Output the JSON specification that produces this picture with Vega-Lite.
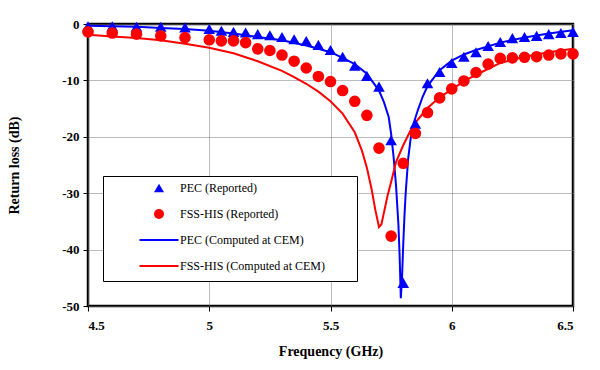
{
  "$schema": "https://vega.github.io/schema/vega-lite/v6.json",
  "autosize": {"type": "none"},
  "padding": {"left": 88, "top": 24, "right": 27, "bottom": 64},
  "width": 485,
  "height": 282,
  "background": "white",
  "config": {
    "view": {"stroke": "black", "strokeWidth": 2.5},
    "axis": {
      "domain": false,
      "grid": true,
      "gridColor": "#777777",
      "gridDash": [1, 1],
      "gridWidth": 1,
      "gridOpacity": 1,
      "tickColor": "black",
      "tickSize": 5,
      "tickWidth": 1,
      "labelFont": "Liberation Serif, Times New Roman, serif",
      "labelFontSize": 13,
      "labelFontWeight": "bold",
      "labelColor": "black",
      "titleFont": "Liberation Serif, Times New Roman, serif",
      "titleFontSize": 14,
      "titleFontWeight": "bold",
      "titleColor": "black"
    }
  },
  "data": {
    "values": [
      {"s": "PEC (Reported)", "k": "p", "f": 4.5, "db": -0.4},
      {"s": "PEC (Reported)", "k": "p", "f": 4.6, "db": -0.4},
      {"s": "PEC (Reported)", "k": "p", "f": 4.7, "db": -0.5},
      {"s": "PEC (Reported)", "k": "p", "f": 4.8, "db": -0.5},
      {"s": "PEC (Reported)", "k": "p", "f": 4.9, "db": -0.6},
      {"s": "PEC (Reported)", "k": "p", "f": 5.0, "db": -0.9},
      {"s": "PEC (Reported)", "k": "p", "f": 5.05, "db": -1.2},
      {"s": "PEC (Reported)", "k": "p", "f": 5.1, "db": -1.4},
      {"s": "PEC (Reported)", "k": "p", "f": 5.15, "db": -1.5},
      {"s": "PEC (Reported)", "k": "p", "f": 5.2, "db": -1.8},
      {"s": "PEC (Reported)", "k": "p", "f": 5.25, "db": -2.0},
      {"s": "PEC (Reported)", "k": "p", "f": 5.3, "db": -2.3},
      {"s": "PEC (Reported)", "k": "p", "f": 5.35, "db": -2.7},
      {"s": "PEC (Reported)", "k": "p", "f": 5.4, "db": -3.0},
      {"s": "PEC (Reported)", "k": "p", "f": 5.45, "db": -3.7},
      {"s": "PEC (Reported)", "k": "p", "f": 5.5, "db": -4.6},
      {"s": "PEC (Reported)", "k": "p", "f": 5.55, "db": -5.8},
      {"s": "PEC (Reported)", "k": "p", "f": 5.6, "db": -7.4},
      {"s": "PEC (Reported)", "k": "p", "f": 5.65, "db": -9.2},
      {"s": "PEC (Reported)", "k": "p", "f": 5.7, "db": -11.1},
      {"s": "PEC (Reported)", "k": "p", "f": 5.75, "db": -20.6},
      {"s": "PEC (Reported)", "k": "p", "f": 5.8, "db": -45.9},
      {"s": "PEC (Reported)", "k": "p", "f": 5.85, "db": -17.7},
      {"s": "PEC (Reported)", "k": "p", "f": 5.9, "db": -10.5},
      {"s": "PEC (Reported)", "k": "p", "f": 5.95, "db": -8.5},
      {"s": "PEC (Reported)", "k": "p", "f": 6.0, "db": -6.9},
      {"s": "PEC (Reported)", "k": "p", "f": 6.05, "db": -5.8},
      {"s": "PEC (Reported)", "k": "p", "f": 6.1, "db": -5.0},
      {"s": "PEC (Reported)", "k": "p", "f": 6.15, "db": -3.9},
      {"s": "PEC (Reported)", "k": "p", "f": 6.2, "db": -3.2},
      {"s": "PEC (Reported)", "k": "p", "f": 6.25, "db": -2.5},
      {"s": "PEC (Reported)", "k": "p", "f": 6.3, "db": -2.3},
      {"s": "PEC (Reported)", "k": "p", "f": 6.35, "db": -2.1},
      {"s": "PEC (Reported)", "k": "p", "f": 6.4, "db": -1.8},
      {"s": "PEC (Reported)", "k": "p", "f": 6.45, "db": -1.6},
      {"s": "PEC (Reported)", "k": "p", "f": 6.5, "db": -1.4},

      {"s": "FSS-HIS (Reported)", "k": "p", "f": 4.5, "db": -1.4},
      {"s": "FSS-HIS (Reported)", "k": "p", "f": 4.6, "db": -1.6},
      {"s": "FSS-HIS (Reported)", "k": "p", "f": 4.7, "db": -1.8},
      {"s": "FSS-HIS (Reported)", "k": "p", "f": 4.8, "db": -2.1},
      {"s": "FSS-HIS (Reported)", "k": "p", "f": 4.9, "db": -2.4},
      {"s": "FSS-HIS (Reported)", "k": "p", "f": 5.0, "db": -2.8},
      {"s": "FSS-HIS (Reported)", "k": "p", "f": 5.05, "db": -3.0},
      {"s": "FSS-HIS (Reported)", "k": "p", "f": 5.1, "db": -3.0},
      {"s": "FSS-HIS (Reported)", "k": "p", "f": 5.15, "db": -3.3},
      {"s": "FSS-HIS (Reported)", "k": "p", "f": 5.2, "db": -4.4},
      {"s": "FSS-HIS (Reported)", "k": "p", "f": 5.25, "db": -4.7},
      {"s": "FSS-HIS (Reported)", "k": "p", "f": 5.3, "db": -5.5},
      {"s": "FSS-HIS (Reported)", "k": "p", "f": 5.35, "db": -6.6},
      {"s": "FSS-HIS (Reported)", "k": "p", "f": 5.4, "db": -7.8},
      {"s": "FSS-HIS (Reported)", "k": "p", "f": 5.45, "db": -9.3},
      {"s": "FSS-HIS (Reported)", "k": "p", "f": 5.5, "db": -10.2},
      {"s": "FSS-HIS (Reported)", "k": "p", "f": 5.55, "db": -11.8},
      {"s": "FSS-HIS (Reported)", "k": "p", "f": 5.6, "db": -13.7},
      {"s": "FSS-HIS (Reported)", "k": "p", "f": 5.65, "db": -16.2},
      {"s": "FSS-HIS (Reported)", "k": "p", "f": 5.7, "db": -22.0},
      {"s": "FSS-HIS (Reported)", "k": "p", "f": 5.75, "db": -37.6},
      {"s": "FSS-HIS (Reported)", "k": "p", "f": 5.8, "db": -24.7},
      {"s": "FSS-HIS (Reported)", "k": "p", "f": 5.85, "db": -19.4},
      {"s": "FSS-HIS (Reported)", "k": "p", "f": 5.9, "db": -15.7},
      {"s": "FSS-HIS (Reported)", "k": "p", "f": 5.95, "db": -13.1},
      {"s": "FSS-HIS (Reported)", "k": "p", "f": 6.0, "db": -11.5},
      {"s": "FSS-HIS (Reported)", "k": "p", "f": 6.05, "db": -10.1},
      {"s": "FSS-HIS (Reported)", "k": "p", "f": 6.1, "db": -8.6},
      {"s": "FSS-HIS (Reported)", "k": "p", "f": 6.15, "db": -7.1},
      {"s": "FSS-HIS (Reported)", "k": "p", "f": 6.2, "db": -6.1},
      {"s": "FSS-HIS (Reported)", "k": "p", "f": 6.25, "db": -6.0},
      {"s": "FSS-HIS (Reported)", "k": "p", "f": 6.3, "db": -5.9},
      {"s": "FSS-HIS (Reported)", "k": "p", "f": 6.35, "db": -5.8},
      {"s": "FSS-HIS (Reported)", "k": "p", "f": 6.4, "db": -5.5},
      {"s": "FSS-HIS (Reported)", "k": "p", "f": 6.45, "db": -5.3},
      {"s": "FSS-HIS (Reported)", "k": "p", "f": 6.5, "db": -5.3},

      {"s": "PEC (Computed at CEM)", "k": "l", "f": 4.5, "db": -0.3},
      {"s": "PEC (Computed at CEM)", "k": "l", "f": 4.6, "db": -0.4},
      {"s": "PEC (Computed at CEM)", "k": "l", "f": 4.7, "db": -0.5},
      {"s": "PEC (Computed at CEM)", "k": "l", "f": 4.8, "db": -0.7},
      {"s": "PEC (Computed at CEM)", "k": "l", "f": 4.9, "db": -0.9},
      {"s": "PEC (Computed at CEM)", "k": "l", "f": 5.0, "db": -1.2},
      {"s": "PEC (Computed at CEM)", "k": "l", "f": 5.1, "db": -1.7},
      {"s": "PEC (Computed at CEM)", "k": "l", "f": 5.2, "db": -2.3},
      {"s": "PEC (Computed at CEM)", "k": "l", "f": 5.3, "db": -2.9},
      {"s": "PEC (Computed at CEM)", "k": "l", "f": 5.4, "db": -3.8},
      {"s": "PEC (Computed at CEM)", "k": "l", "f": 5.45, "db": -4.4},
      {"s": "PEC (Computed at CEM)", "k": "l", "f": 5.5, "db": -5.0},
      {"s": "PEC (Computed at CEM)", "k": "l", "f": 5.55, "db": -6.0},
      {"s": "PEC (Computed at CEM)", "k": "l", "f": 5.6, "db": -7.1},
      {"s": "PEC (Computed at CEM)", "k": "l", "f": 5.65, "db": -8.8},
      {"s": "PEC (Computed at CEM)", "k": "l", "f": 5.7, "db": -11.8},
      {"s": "PEC (Computed at CEM)", "k": "l", "f": 5.72, "db": -13.8},
      {"s": "PEC (Computed at CEM)", "k": "l", "f": 5.74, "db": -16.5},
      {"s": "PEC (Computed at CEM)", "k": "l", "f": 5.75, "db": -19.5},
      {"s": "PEC (Computed at CEM)", "k": "l", "f": 5.76, "db": -23.5},
      {"s": "PEC (Computed at CEM)", "k": "l", "f": 5.77, "db": -28.5},
      {"s": "PEC (Computed at CEM)", "k": "l", "f": 5.78, "db": -35.5},
      {"s": "PEC (Computed at CEM)", "k": "l", "f": 5.785, "db": -41.0},
      {"s": "PEC (Computed at CEM)", "k": "l", "f": 5.79, "db": -48.6},
      {"s": "PEC (Computed at CEM)", "k": "l", "f": 5.795, "db": -45.0},
      {"s": "PEC (Computed at CEM)", "k": "l", "f": 5.8, "db": -39.0},
      {"s": "PEC (Computed at CEM)", "k": "l", "f": 5.805, "db": -34.0},
      {"s": "PEC (Computed at CEM)", "k": "l", "f": 5.81, "db": -30.0},
      {"s": "PEC (Computed at CEM)", "k": "l", "f": 5.82, "db": -24.0},
      {"s": "PEC (Computed at CEM)", "k": "l", "f": 5.83, "db": -20.5},
      {"s": "PEC (Computed at CEM)", "k": "l", "f": 5.84, "db": -18.0},
      {"s": "PEC (Computed at CEM)", "k": "l", "f": 5.86, "db": -15.3},
      {"s": "PEC (Computed at CEM)", "k": "l", "f": 5.88, "db": -12.9},
      {"s": "PEC (Computed at CEM)", "k": "l", "f": 5.9, "db": -11.0},
      {"s": "PEC (Computed at CEM)", "k": "l", "f": 5.95, "db": -8.2},
      {"s": "PEC (Computed at CEM)", "k": "l", "f": 6.0, "db": -6.5},
      {"s": "PEC (Computed at CEM)", "k": "l", "f": 6.05, "db": -5.4},
      {"s": "PEC (Computed at CEM)", "k": "l", "f": 6.1, "db": -4.6},
      {"s": "PEC (Computed at CEM)", "k": "l", "f": 6.2, "db": -3.3},
      {"s": "PEC (Computed at CEM)", "k": "l", "f": 6.3, "db": -2.4},
      {"s": "PEC (Computed at CEM)", "k": "l", "f": 6.4, "db": -1.7},
      {"s": "PEC (Computed at CEM)", "k": "l", "f": 6.5, "db": -1.1},

      {"s": "FSS-HIS (Computed at CEM)", "k": "l", "f": 4.5, "db": -1.9},
      {"s": "FSS-HIS (Computed at CEM)", "k": "l", "f": 4.6, "db": -2.2},
      {"s": "FSS-HIS (Computed at CEM)", "k": "l", "f": 4.7, "db": -2.5},
      {"s": "FSS-HIS (Computed at CEM)", "k": "l", "f": 4.8, "db": -2.9},
      {"s": "FSS-HIS (Computed at CEM)", "k": "l", "f": 4.9, "db": -3.5},
      {"s": "FSS-HIS (Computed at CEM)", "k": "l", "f": 5.0, "db": -4.2},
      {"s": "FSS-HIS (Computed at CEM)", "k": "l", "f": 5.1, "db": -5.2},
      {"s": "FSS-HIS (Computed at CEM)", "k": "l", "f": 5.2, "db": -6.6},
      {"s": "FSS-HIS (Computed at CEM)", "k": "l", "f": 5.3, "db": -8.3},
      {"s": "FSS-HIS (Computed at CEM)", "k": "l", "f": 5.35, "db": -9.4},
      {"s": "FSS-HIS (Computed at CEM)", "k": "l", "f": 5.4, "db": -10.6},
      {"s": "FSS-HIS (Computed at CEM)", "k": "l", "f": 5.45, "db": -12.0},
      {"s": "FSS-HIS (Computed at CEM)", "k": "l", "f": 5.5, "db": -13.7},
      {"s": "FSS-HIS (Computed at CEM)", "k": "l", "f": 5.55, "db": -15.9},
      {"s": "FSS-HIS (Computed at CEM)", "k": "l", "f": 5.6, "db": -19.2},
      {"s": "FSS-HIS (Computed at CEM)", "k": "l", "f": 5.63, "db": -22.5},
      {"s": "FSS-HIS (Computed at CEM)", "k": "l", "f": 5.65, "db": -25.5},
      {"s": "FSS-HIS (Computed at CEM)", "k": "l", "f": 5.67, "db": -29.4},
      {"s": "FSS-HIS (Computed at CEM)", "k": "l", "f": 5.685, "db": -33.0},
      {"s": "FSS-HIS (Computed at CEM)", "k": "l", "f": 5.7, "db": -36.0},
      {"s": "FSS-HIS (Computed at CEM)", "k": "l", "f": 5.71, "db": -35.5},
      {"s": "FSS-HIS (Computed at CEM)", "k": "l", "f": 5.72, "db": -33.5},
      {"s": "FSS-HIS (Computed at CEM)", "k": "l", "f": 5.735, "db": -30.5},
      {"s": "FSS-HIS (Computed at CEM)", "k": "l", "f": 5.75, "db": -28.0},
      {"s": "FSS-HIS (Computed at CEM)", "k": "l", "f": 5.77, "db": -24.5},
      {"s": "FSS-HIS (Computed at CEM)", "k": "l", "f": 5.8, "db": -21.5},
      {"s": "FSS-HIS (Computed at CEM)", "k": "l", "f": 5.84, "db": -18.0},
      {"s": "FSS-HIS (Computed at CEM)", "k": "l", "f": 5.9, "db": -14.9},
      {"s": "FSS-HIS (Computed at CEM)", "k": "l", "f": 5.95, "db": -13.0},
      {"s": "FSS-HIS (Computed at CEM)", "k": "l", "f": 6.0, "db": -11.6},
      {"s": "FSS-HIS (Computed at CEM)", "k": "l", "f": 6.06, "db": -9.9},
      {"s": "FSS-HIS (Computed at CEM)", "k": "l", "f": 6.12, "db": -8.6},
      {"s": "FSS-HIS (Computed at CEM)", "k": "l", "f": 6.2, "db": -6.9},
      {"s": "FSS-HIS (Computed at CEM)", "k": "l", "f": 6.3, "db": -5.8},
      {"s": "FSS-HIS (Computed at CEM)", "k": "l", "f": 6.4, "db": -5.0},
      {"s": "FSS-HIS (Computed at CEM)", "k": "l", "f": 6.5, "db": -4.4}
    ]
  },
  "encoding": {
    "x": {
      "field": "f", "type": "quantitative",
      "scale": {"domain": [4.5, 6.5], "nice": false, "zero": false},
      "axis": {"values": [4.5, 5, 5.5, 6, 6.5], "labelExpr": "datum.value + ''", "title": "Frequency (GHz)", "labelPadding": 8, "titlePadding": 12}
    },
    "y": {
      "field": "db", "type": "quantitative",
      "scale": {"domain": [-50, 0], "nice": false, "zero": false},
      "axis": {"values": [-50, -40, -30, -20, -10, 0], "labelExpr": "datum.value + ''", "title": "Return loss (dB)", "labelPadding": 4, "titleX": -67, "titleY": 141}
    },
    "color": {
      "field": "s", "type": "nominal",
      "scale": {
        "domain": ["PEC (Reported)", "FSS-HIS (Reported)", "PEC (Computed at CEM)", "FSS-HIS (Computed at CEM)"],
        "range": ["#0000ff", "#ff0000", "#0000ff", "#ff0000"]
      },
      "legend": {
        "orient": "none", "legendX": 15, "legendY": 152,
        "title": null,
        "strokeColor": "black", "fillColor": "white",
        "padding": 6,
        "symbolOffset": 44,
        "labelOffset": 15,
        "rowPadding": 14,
        "symbolSize": 100,
        "symbolStrokeWidth": 0,
        "labelFont": "Liberation Serif, Times New Roman, serif", "labelFontSize": 12, "labelColor": "black", "labelLimit": 400
      }
    }
  },
  "layer": [
    {
      "transform": [{"filter": "datum.k == 'l'"}],
      "mark": {"type": "line", "strokeWidth": 2},
      "encoding": {"detail": {"field": "s", "type": "nominal"}}
    },
    {
      "transform": [{"filter": "datum.k == 'p'"}],
      "mark": {"type": "point", "filled": true, "opacity": 1, "size": 135},
      "encoding": {
        "shape": {
          "field": "s", "type": "nominal",
          "scale": {
            "domain": ["PEC (Reported)", "FSS-HIS (Reported)", "PEC (Computed at CEM)", "FSS-HIS (Computed at CEM)"],
            "range": ["triangle-up", "circle", "M-3.9,-0.2H3.9V0.2H-3.9Z M38.3,0L38.3,0", "M-3.9,-0.2H3.9V0.2H-3.9Z M0,1.8L0,1.8"]
          }
        }
      }
    }
  ]
}
